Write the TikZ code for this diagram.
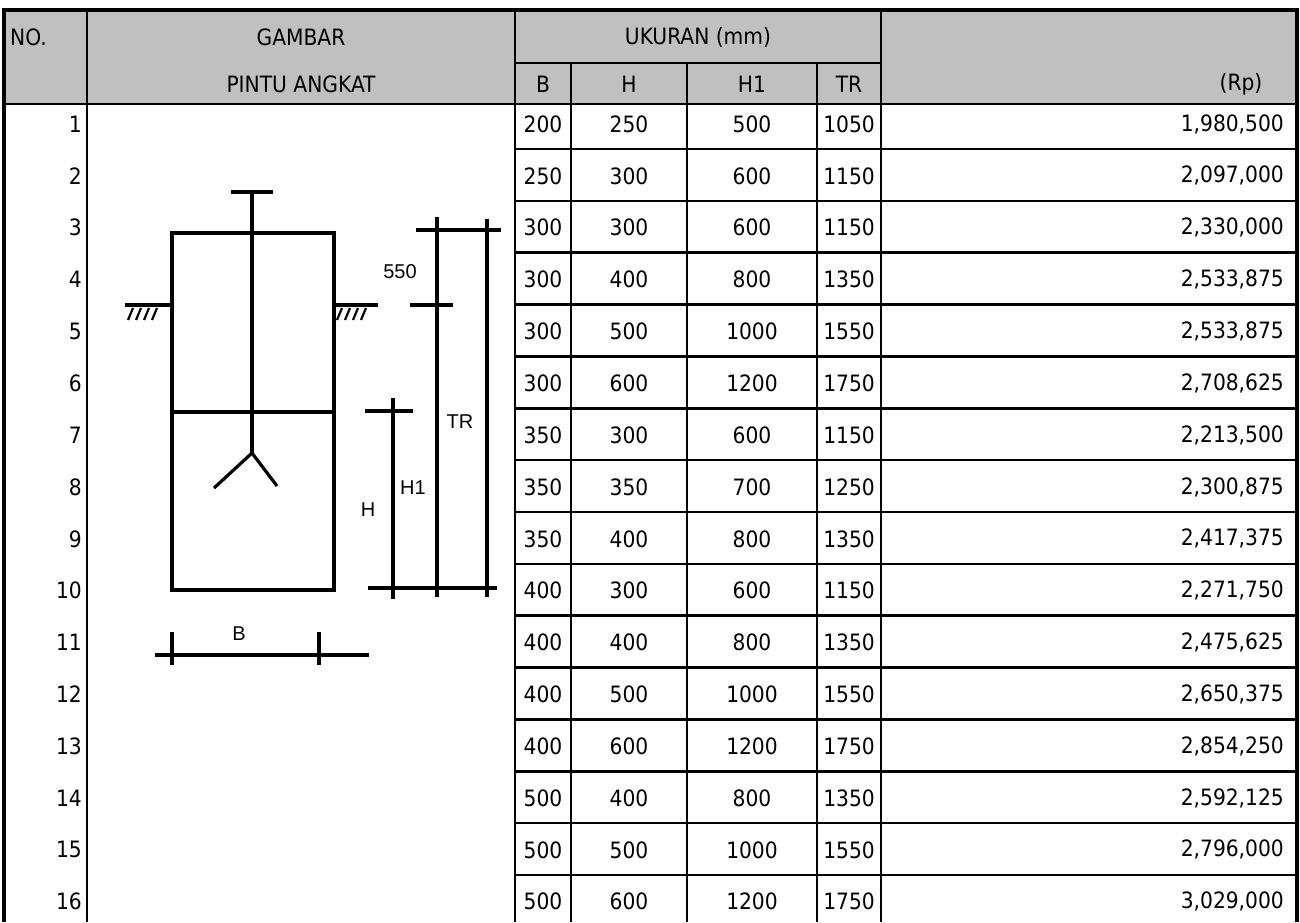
\documentclass[tikz,border=0pt]{standalone}
\usepackage{fontspec}
\setmainfont{DejaVu Sans Condensed}
\newfontfamily\sketchfont{Liberation Sans}
\definecolor{head-fill}{RGB}{192,192,192}
\tikzset{
    grid line/.style  = {line width=2.6pt},
    frame line/.style = {line width=3.4pt},
    gate line/.style  = {line width=3.2pt},
    hatch/.style      = {line width=2.2pt},
    cell/.style       = {font=\fontsize{22.5}{22.5}\selectfont, inner sep=0pt},
    sketch/.style     = {font=\sketchfont\fontsize{20}{20}\selectfont, inner sep=0pt}
}
\begin{document}
\begin{tikzpicture}[x=1pt,y=-1pt]
\useasboundingbox (0,0) rectangle (1300,922);
\fill[head-fill] (4,10) rectangle (1297,104);

\draw[grid line] (515,63) -- (881,63);
\draw[grid line] (4,104) -- (1297,104);
\foreach \cx in {87,515,881} {
    \draw[grid line] (\cx,10) -- (\cx,922);
}
\foreach \cx in {571,687,817} {
    \draw[grid line] (\cx,63) -- (\cx,922);
}
\foreach \n in {1,...,15} {
    \pgfmathsetmacro\yb{149+51.85*(\n-1)}
    \draw[grid line] (515,\yb) -- (1297,\yb);
}
\draw[frame line] (4,922) -- (4,10) -- (1297,10) -- (1297,922);

\node[cell, anchor=west] (no)   at (10,37)  {NO.};
\node[cell] (gambar) at (301,37)  {GAMBAR};
\node[cell] (pintu)  at (301,84)  {PINTU ANGKAT};
\node[cell] (ukuran) at (698,37)  {UKURAN (mm)};
\node[cell] (hb)     at (543,84)  {B};
\node[cell] (hh)     at (629,84)  {H};
\node[cell] (hh1)    at (752,84)  {H1};
\node[cell] (htr)    at (849,84)  {TR};
\node[cell] (hrp)    at (1241,84) {(Rp)};

\foreach \n/\b/\h/\hi/\tr/\rp in {
    1/200/250/500/1050/1{,}980{,}500,
    2/250/300/600/1150/2{,}097{,}000,
    3/300/300/600/1150/2{,}330{,}000,
    4/300/400/800/1350/2{,}533{,}875,
    5/300/500/1000/1550/2{,}533{,}875,
    6/300/600/1200/1750/2{,}708{,}625,
    7/350/300/600/1150/2{,}213{,}500,
    8/350/350/700/1250/2{,}300{,}875,
    9/350/400/800/1350/2{,}417{,}375,
    10/400/300/600/1150/2{,}271{,}750,
    11/400/400/800/1350/2{,}475{,}625,
    12/400/500/1000/1550/2{,}650{,}375,
    13/400/600/1200/1750/2{,}854{,}250,
    14/500/400/800/1350/2{,}592{,}125,
    15/500/500/1000/1550/2{,}796{,}000,
    16/500/600/1200/1750/3{,}029{,}000} {
    \pgfmathsetmacro\yt{149+51.85*(\n-1)-25}
    \node[cell, anchor=east] (n\n)  at (82,\yt)   {\n};
    \node[cell] (b\n)  at (543,\yt)  {\b};
    \node[cell] (h\n)  at (629,\yt)  {\h};
    \node[cell] (hi\n) at (752,\yt)  {\hi};
    \node[cell] (tr\n) at (849,\yt)  {\tr};
    \node[cell, anchor=east] (rp\n) at (1284,\yt) {\rp};
}

\draw[gate line] (172,233) rectangle (334,590);
\draw[gate line] (172,412) -- (334,412);
\draw[gate line] (231,192) -- (273,192);
\draw[gate line] (252,192) -- (252,453) coordinate (fork);
\draw[gate line] (214,488) -- (fork) -- (277,486);

\draw[gate line] (125,305) -- (170,305);
\draw[gate line] (334,305) -- (378,305);
\foreach \hx in {128,136,144,152,337,345,353,361} {
    \draw[hatch] (\hx,320) -- (\hx+5,308);
}

\draw[gate line] (393,398) -- (393,599);
\draw[gate line] (365,411) -- (413,411);
\draw[gate line] (437,217) -- (437,597);
\draw[gate line] (410,305) -- (453,305);
\draw[gate line] (487,219) -- (487,597);
\draw[gate line] (416,230) -- (501,230);
\draw[gate line] (368,588) -- (497,588);

\draw[gate line] (155,655) -- (369,655);
\draw[gate line] (172,632) -- (172,665);
\draw[gate line] (319,632) -- (319,665);

\node[sketch] (l550) at (400,272) {550};
\node[sketch] (ltr)  at (460,422) {TR};
\node[sketch] (lh1)  at (413,488) {H1};
\node[sketch] (lh)   at (368,510) {H};
\node[sketch] (lb)   at (239,634) {B};
\end{tikzpicture}
\end{document}
